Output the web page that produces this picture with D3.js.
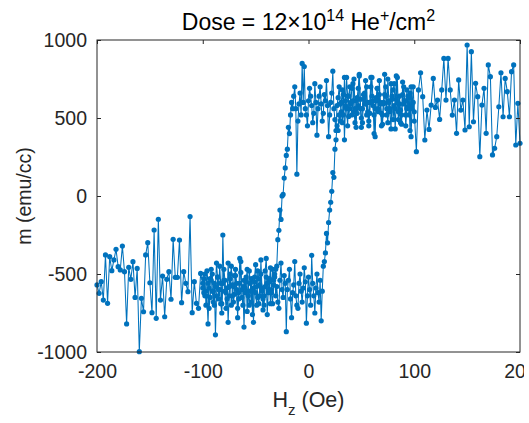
<!DOCTYPE html>
<html>
<head>
<meta charset="utf-8">
<script src="https://cdn.jsdelivr.net/npm/d3@7"></script>
<style>
  body { margin: 0; background: #fff; }
  svg { display: block; font-family: "Liberation Sans", Arial, Helvetica, sans-serif; }
</style>
</head>
<body>
<svg id="chart" width="529" height="423"></svg>
<script>
// field sweep setpoints (Oe): coarse 2 Oe steps outside +-100, 1 Oe steps inside
const fieldLeft = d3.range(-200, -101, 2);
const fieldRight = d3.range(102, 201, 2);
const fieldInner = d3.range(-100, 101, 1);

// descending branch (+ -> -), values on fieldInner then fieldRight (emu/cc)
const mDownInner = [
  -590,-530,-640,-610,-480,-560,-720,-650,-540,-500,
  -610,-700,-580,-430,-520,-660,-600,-690,-750,-560,
  -470,-540,-620,-590,-810,-640,-530,-450,-570,-680,
  -630,-510,-560,-720,-660,-400,-490,-600,-580,-840,
  -620,-550,-470,-640,-700,-610,-530,-760,-590,-520,
  -440,-580,-650,-690,-570,-500,-610,-730,-640,-480,
  -400,-560,-620,-530,-690,-600,-470,-540,-520,-470,
  -450,-280,-220,-90,-150,0,10,115,180,260,300,440,400,520,600,560,
  640,700,560,140,480,590,660,520,850,600,
  830,560,520,450,610,690,640,580,470,530,
  720,600,390,560,640,700,590,480,530,650,
  610,740,580,380,520,600,660,800,560,490,
  420,580,630,700,590,540,470,650,360,580,
  760,640,510,560,600,690,720,540,470,610,
  530,580,770,620,440,560,650,590,740,520,
  600,480,530,700,760,610,400,560,630,690,
  540,650,590,450,520,600,780,640,560,470,
  600,560,720,640,490,580,430,620,760,540,
  590,470,520,650,700,610,450,560,640,520,
  660,380,580,700,540
];
const mDownRight = [
  284,680,790,637,359,551,427,583,754,
  568,615,491,680,882,615,882,680,
  519,615,402,744,551,615,423,968,444,
  925,476,722,637,252,583,690,
  402,840,765,263,306,380,572,790,508,754,
  669,508,797,840,327,594,338
];

// ascending branch (- -> +), values on fieldLeft then fieldInner (emu/cc)
const mUpLeft = [
  -570,-624,-549,-667,-378,-688,-389,-479,-410,-342,
  -453,-474,-321,-485,-820,-457,-534,-421,-650,-464,
  -998,-656,-742,-378,-299,-556,-748,-218,-784,-149,
  -667,-513,-774,-534,-485,-662,-278,-521,-521,-282,
  -684,-485,-560,-613,-132,-748,-549,-688,-720,-496
];
const mUpInner = [
  -560,-620,-500,-700,-640,-820,-590,-530,-470,-610,
  -680,-560,-890,-640,-520,-600,-450,-560,-690,-250,
  -540,-610,-720,-660,-430,-580,-500,-700,-640,-580,
  -510,-470,-600,-780,-620,-560,-420,-650,-700,-540,
  -590,-520,-740,-610,-480,-560,-680,-600,-810,-550,
  -620,-700,-480,-530,-640,-410,-590,-660,-700,-580,
  -520,-760,-600,-550,-460,-620,-690,-570,-500,-640,
  -580,-680,-720,-540,-430,-600,-650,-510,-560,-870,
  -600,-540,-470,-660,-780,-620,-570,-420,-640,-700,
  -720,-560,-500,-610,-680,-590,-460,-550,-815,-640,
  -520,-600,-700,-380,-560,-640,-750,-590,-500,-620,
  -680,-540,-800,-610,-450,
  -420,-365,-240,-300,-170,-90,-40,30,150,120,300,360,450,420,520,480,
  600,680,520,760,610,560,450,640,700,590,
  520,610,750,560,440,630,690,780,560,500,
  470,620,660,590,700,540,450,600,760,640,
  580,520,380,610,690,560,740,600,530,460,
  590,650,700,520,750,610,540,430,620,680,
  720,560,770,600,490,640,550,460,730,590,
  610,520,680,570,630,420,700,560,600,480
];

const xTicks = [-200, -100, 0, 100, 200];
const yTicks = [-1000, -500, 0, 500, 1000];

const branches = [
  fieldInner.map((h, i) => [h, mDownInner[i]]).concat(fieldRight.map((h, i) => [h, mDownRight[i]])),
  fieldLeft.map((h, i) => [h, mUpLeft[i]]).concat(fieldInner.map((h, i) => [h, mUpInner[i]]))
];

const svg = d3.select("#chart");
const margin = { top: 40, left: 97, right: 9, bottom: 71 };
const width = 529, height = 423;
const blue = "#0072BD";
const axisColor = "#262626";

const x = d3.scaleLinear().domain([-200, 200]).range([margin.left, width - margin.right]);
const y = d3.scaleLinear().domain([-1000, 1000]).range([height - margin.bottom, margin.top]);

// the exported figure ends just past the last tick label's "20"
svg.append("clipPath").attr("id", "figclip")
  .append("rect").attr("x", 0).attr("y", 0).attr("width", 524).attr("height", height);

// data
const line = d3.line().x(d => x(d[0])).y(d => y(d[1]));
const plot = svg.append("g");
branches.forEach(b => {
  plot.append("path")
    .attr("d", line(b))
    .attr("fill", "none")
    .attr("stroke", blue)
    .attr("stroke-width", 1.05);
});
branches.forEach(b => {
  plot.selectAll(null)
    .data(b)
    .join("circle")
    .attr("cx", d => x(d[0]))
    .attr("cy", d => y(d[1]))
    .attr("r", 2.6)
    .attr("fill", blue);
});

// axes, ticks pointing inward on all four sides
function styleAxis(g) {
  g.select(".domain").remove();
  g.selectAll("line").attr("stroke", axisColor);
  g.selectAll("text").attr("fill", axisColor).style("font-size", "19.5px").attr("font-family", null);
}
svg.append("g")
  .attr("transform", `translate(0,${height - margin.bottom})`)
  .attr("clip-path", "url(#figclip)")
  .call(d3.axisBottom(x).tickValues(xTicks).tickSizeInner(-4).tickPadding(12).tickFormat(d3.format("d")))
  .call(styleAxis);
svg.append("g")
  .attr("transform", `translate(0,${margin.top})`)
  .call(d3.axisTop(x).tickValues(xTicks).tickSizeInner(-4).tickFormat(""))
  .call(styleAxis);
svg.append("g")
  .attr("transform", `translate(${margin.left},0)`)
  .call(d3.axisLeft(y).tickValues(yTicks).tickSizeInner(-4).tickPadding(10).tickFormat(d3.format("d")))
  .call(styleAxis);
svg.append("g")
  .attr("transform", `translate(${width - margin.right},0)`)
  .call(d3.axisRight(y).tickValues(yTicks).tickSizeInner(-4).tickFormat(""))
  .call(styleAxis);

svg.selectAll(".tick text").text(function () { return this.textContent.replace("\u2212", "-"); });

svg.append("rect")
  .attr("x", margin.left)
  .attr("y", margin.top)
  .attr("width", width - margin.left - margin.right)
  .attr("height", height - margin.top - margin.bottom)
  .attr("fill", "none")
  .attr("stroke", axisColor)
  .attr("stroke-width", 1);

// title
const cx = (margin.left + width - margin.right) / 2;
const title = svg.append("text")
  .attr("x", cx)
  .attr("y", 30)
  .attr("text-anchor", "middle")
  .attr("fill", "#000")
  .style("font-size", "23px");
title.append("tspan").text("Dose = 12\u00d710");
title.append("tspan").attr("dy", -9).style("font-size", "16px").text("14");
title.append("tspan").attr("dy", 9).text(" He");
title.append("tspan").attr("dy", -9).style("font-size", "16px").text("+");
title.append("tspan").attr("dy", 9).text("/cm");
title.append("tspan").attr("dy", -9).style("font-size", "16px").text("2");

// axis labels
const xl = svg.append("text")
  .attr("x", cx)
  .attr("y", 407)
  .attr("text-anchor", "middle")
  .attr("fill", axisColor)
  .style("font-size", "21.5px");
xl.append("tspan").text("H");
xl.append("tspan").attr("dy", 8).style("font-size", "15px").text("z");
xl.append("tspan").attr("dy", -8).text(" (Oe)");

svg.append("text")
  .attr("transform", `translate(31,${(margin.top + height - margin.bottom) / 2}) rotate(-90)`)
  .attr("text-anchor", "middle")
  .attr("fill", axisColor)
  .style("font-size", "19.5px")
  .text("m (emu/cc)");
</script>
</body>
</html>
